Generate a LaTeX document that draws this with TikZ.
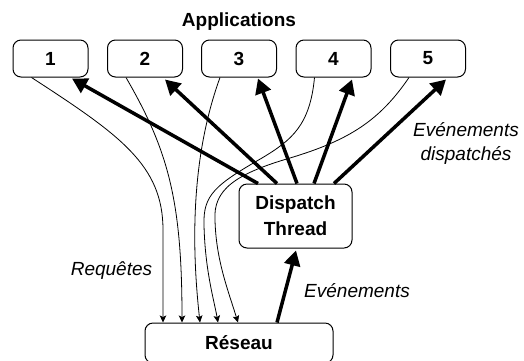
\documentclass[tikz,border=0pt]{standalone}
\usepackage{fontspec}
\setmainfont{Liberation Sans}
\usetikzlibrary{arrows.meta,calc}
\begin{document}
\begin{tikzpicture}[x=1pt,y=-1pt,
  box/.style={draw,line width=1pt,rounded corners=8pt,font=\fontsize{19}{26}\selectfont\bfseries,align=center,inner sep=0pt},
  app/.style={box,minimum width=75pt,minimum height=37pt},
  req/.style={line width=0.8pt,-{Stealth[length=7pt,width=6.5pt,inset=1.5pt]}},
  evt/.style={line width=3.5pt,-{Triangle[length=15pt,width=16pt]}},
  lbl/.style={font=\fontsize{19}{24}\selectfont\itshape,inner sep=0pt,align=center}]
\useasboundingbox (0,0) rectangle (524,360);

\node[font=\fontsize{19}{22}\selectfont\bfseries,inner sep=0pt] (apps) at (239,22) {Applications};
\node[app] (b1) at (50.5,58.5) {1};
\node[app] (b2) at (145,58.5) {2};
\node[app] (b3) at (239,58.5) {3};
\node[app] (b4) at (333.5,58.5) {4};
\node[app] (b5) at (428,58.5) {5};
\node[box,minimum width=113pt,minimum height=64pt] (disp) at (295.5,216) {Dispatch\\Thread};
\node[box,minimum width=188pt,minimum height=40pt] (res) at (239,343) {Réseau};

% requests
\draw[req] ($(b1.south)+(-19,0)$) .. controls (120,135) and (163,165) .. (163,230) -- ($(res.north)+(-76,0)$);
\draw[req] ($(b2.south)+(-19,0)$) .. controls (168,150) and (182,200) .. ($(res.north)+(-57,0)$);
\draw[req] ($(b3.south)+(-19,0)$) .. controls (190,160) and (192,250) .. ($(res.north)+(-39,0)$);
\draw[req] ($(b4.south)+(-19,0)$) .. controls (310,125) and (292,140) .. (262,158)
   .. controls (215,185) and (203,195) .. (204,225)
   .. controls (205,270) and (214,300) .. ($(res.north)+(-21,0)$);
\draw[req] ($(b5.south)+(-19,0)$) .. controls (380,120) and (350,140) .. (290,158)
   .. controls (235,174) and (213,190) .. (215,220)
   .. controls (216,260) and (228,290) .. ($(res.north)+(-1,0)$);

% events
\draw[evt] ($(res.north)+(38,0)$) -- ($(disp.south)+(0.5,2)$);
\draw[evt] ($(disp.north)+(-37.5,0)$) -- ($(b1.south)+(21.5,1)$);
\draw[evt] ($(disp.north)+(-18.5,0)$) -- ($(b2.south)+(20,2)$);
\draw[evt] ($(disp.north)+(1.5,0)$) -- ($(b3.south)+(19,1)$);
\draw[evt] ($(disp.north)+(18.5,0)$) -- ($(b4.south)+(18.5,2)$);
\draw[evt] ($(disp.north)+(38.5,0)$) -- ($(b5.south)+(18,2)$);

\node[lbl] (lreq) at (111.5,271) {Requêtes};
\node[lbl] (lev) at (357,291) {Evénements};
\node[lbl] (ldisp) at (466,143) {Evénements\\dispatchés};
\end{tikzpicture}
\end{document}
